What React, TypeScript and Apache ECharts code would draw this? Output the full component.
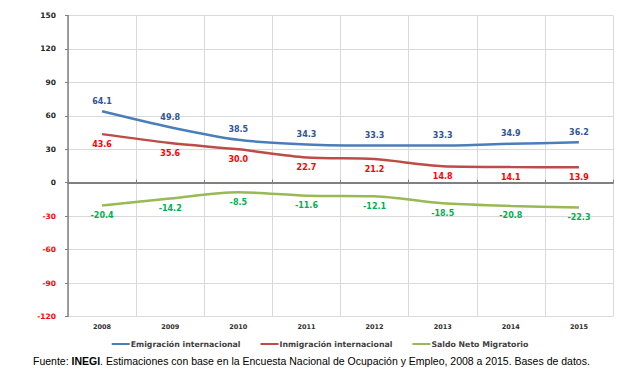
import React, { useEffect, useRef } from "react";
import * as echarts from "echarts";

const years = ["2008", "2009", "2010", "2011", "2012", "2013", "2014", "2015"];
const emigracion = [64.1, 49.8, 38.5, 34.3, 33.3, 33.3, 34.9, 36.2];
const inmigracion = [43.6, 35.6, 30.0, 22.7, 21.2, 14.8, 14.1, 13.9];
const saldo = [-20.4, -14.2, -8.5, -11.6, -12.1, -18.5, -20.8, -22.3];
const seriesNames = ["Emigración internacional", "Inmigración internacional", "Saldo Neto Migratorio"];

export default function App() {
  const ref = useRef<HTMLDivElement>(null);
  useEffect(() => {
    document.body.style.margin = "0";
    const chart = echarts.init(ref.current!, undefined, { renderer: "svg" });
    const labelFont = { fontFamily: "DejaVu Sans", fontSize: 8, fontWeight: "bold" as const };
    const mk = (name: string, data: number[], color: string, labelColor: string, pos: string) => ({
      name,
      type: "line",
      data,
      smooth: 0.3,
      symbol: "circle",
      symbolSize: 0,
      lineStyle: { color, width: 2.5 },
      itemStyle: { color },
      label: {
        show: true,
        position: pos,
        distance: 6,
        color: labelColor,
        ...labelFont,
        formatter: (p: any) => Number(p.value).toFixed(1),
      },
      z: 3,
    });
    chart.setOption({
      animation: false,
      backgroundColor: "#ffffff",
      grid: { left: 68, right: 27, top: 15.5, bottom: 55.5 },
      title: {
        left: 28,
        top: 350,
        text: "{n|Fuente: }{b|INEGI}{n|. Estimaciones con base en la Encuesta Nacional de Ocupación y Empleo, 2008 a 2015. Bases de datos.}",
        textStyle: {
          fontWeight: "normal",
          fontFamily: "Liberation Sans",
          fontSize: 10.5,
          rich: {
            n: { fontFamily: "Liberation Sans", fontSize: 10.5, fontWeight: "normal", color: "#000" },
            b: { fontFamily: "Liberation Sans", fontSize: 10.5, fontWeight: "bold", color: "#000" },
          },
        },
      },
      legend: {
        top: 335,
        left: "center",
        data: seriesNames,
        icon: "rect",
        itemWidth: 18,
        itemHeight: 2,
        itemGap: 20,
        textStyle: { fontFamily: "DejaVu Sans", fontSize: 7.8, fontWeight: "bold", color: "#404040", padding: [0, 0, 0, -4] },
      },
      xAxis: [
        {
          type: "category",
          data: years,
          boundaryGap: true,
          position: "bottom",
          axisLine: { show: false, onZero: false },
          axisTick: { show: false },
          axisLabel: { fontFamily: "DejaVu Sans", fontSize: 6.5, fontWeight: "bold", color: "#303030", margin: 7 },
          splitLine: { show: true, lineStyle: { color: "#d9d9d9", width: 1 } },
        },
        {
          type: "category",
          data: years,
          boundaryGap: true,
          axisLine: { show: true, onZero: true, lineStyle: { color: "#808080", width: 2 } },
          axisTick: { show: true, length: 3, inside: false, lineStyle: { color: "#808080" } },
          axisLabel: { show: false },
          splitLine: { show: false },
        },
      ],
      yAxis: {
        type: "value",
        min: -120,
        max: 150,
        interval: 30,
        axisLine: { show: true, lineStyle: { color: "#808080", width: 1.5 } },
        axisTick: { show: true, length: 3, lineStyle: { color: "#808080" } },
        axisLabel: {
          fontFamily: "DejaVu Sans",
          fontSize: 7.5,
          fontWeight: "bold",
          margin: 12,
          color: (v: any) => (Number(v) < 0 ? "#ff0000" : "#262626"),
        },
        splitLine: { show: true, lineStyle: { color: "#d9d9d9", width: 1 } },
      },
      series: [
        mk(seriesNames[0], emigracion, "#4a7ebb", "#2f5597", "top"),
        mk(seriesNames[1], inmigracion, "#be4b48", "#ff0000", "bottom"),
        mk(seriesNames[2], saldo, "#98b954", "#00b050", "bottom"),
      ],
    });
    return () => chart.dispose();
  }, []);
  return <div ref={ref} style={{ width: 640, height: 372 }} />;
}
